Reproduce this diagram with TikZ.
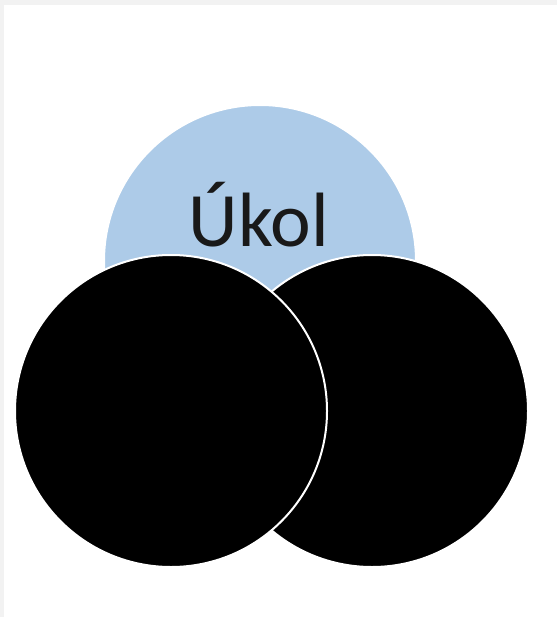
\documentclass[tikz,border=0pt]{standalone}
\usepackage{fontspec}
\setmainfont{Carlito}
\definecolor{taskbg}{RGB}{173,203,232}
\definecolor{frame}{HTML}{F2F2F2}
\definecolor{ink}{HTML}{000000}
\tikzset{
  disc/.style={circle, draw=white, line width=2pt, minimum size=312pt, inner sep=0pt},
  task/.style={disc, fill=taskbg},
  part/.style={disc, fill=ink},
  title/.style={font=\fontsize{77}{84}\selectfont, text=ink!90, anchor=base, inner sep=0pt},
}
\begin{document}
\begin{tikzpicture}[x=1pt, y=-1pt]

% --- canvas -----------------------------------------------------------------------------
\useasboundingbox (0,0) rectangle (557,617);
\fill[frame] (0,0) rectangle (557,617);
\fill[white] (4,5) rectangle (557,617);

% --- circles: task behind, the two parts in front ------------------------------------------
\node[task] (ukol) at (260,261) {};
\node[title] (ukoltxt) at (259,247) {Úkol};
\node[part] (right) at (372,411) {};
\node[part] (left) at (171,411) {};

\end{tikzpicture}
\end{document}
